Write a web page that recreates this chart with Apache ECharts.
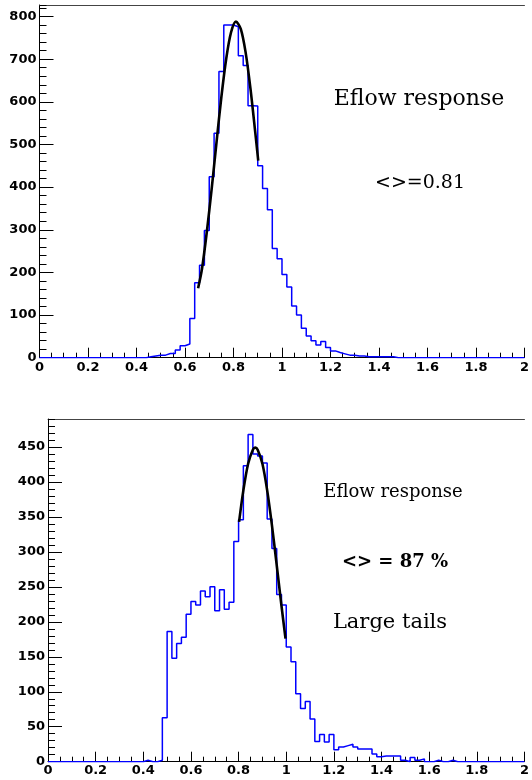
<!DOCTYPE html>
<html><head><meta charset="utf-8">
<script src="https://cdn.jsdelivr.net/npm/echarts@6/dist/echarts.min.js"></script>
<style>html,body{margin:0;padding:0;background:#fff}#c{width:532px;height:780px}</style>
</head><body><div id="c"></div>
<script>
// ---------- data ----------
const binWidth = 0.02;          // histogram bin width, x from 0 to 2 (100 bins)
const xMin = 0, xMax = 2;

// Top histogram: counts per bin (bin i covers [0.02*i, 0.02*(i+1)])
const topCounts = [
  0,0,0,0,0,0,0,0,0,0, 0,0,0,0,0,0,0,0,0,0,
  0,0,2,4,6,6,10,10,18,28,
  32,92,176,217,298,424,526,671,780,780,
  776,708,685,591,590,450,397,347,256,232,
  195,166,121,100,69,51,40,30,38,24,
  16,12,9,6,6,4,4,2,2,2,
  2,2,2,0,0,0,0,0,0,0,
  0,0,0,0,0,0,0,0,0,0,
  0,0,0,0,0,0,0,0,0,0
];
// Top gaussian fit
const topFitX = [0.654,0.67,0.69,0.71,0.73,0.75,0.77,0.79,0.81,0.83,0.85,0.87,0.89,0.902];
const topFitY = [163,208,295,396,505,611,701,763,788,771,716,631,527,462];

// Bottom histogram
const bottomCounts = [
  0,0,0,0,0,0,0,0,0,0, 0,0,0,0,0,0,0,0,0,0,
  2,0,0,2,63,186,148,169,178,211,
  229,224,244,236,250,216,246,218,228,315,
  346,423,468,440,437,427,347,305,239,224,
  164,143,97,76,86,61,29,39,28,39,
  17,21,23,25,21,18,18,18,11,7,
  8,8,8,8,2,0,6,2,4,0,
  0,2,0,0,2,0,0,0,0,0,
  0,0,0,0,0,0,0,0,0,0
];
const bottomFitX = [0.802,0.82,0.84,0.86,0.87,0.88,0.90,0.92,0.94,0.96,0.98,0.997];
const bottomFitY = [343,388,426,446,449,446,426,388,338,281,223,176];

// Axis settings
const xInterval = 0.2;
const topYMax = 827, topYInterval = 100, topYMinor = 20;
const bottomYMax = 490, bottomYInterval = 50, bottomYMinor = 10;

// ---------- build ----------
function stepPoints(counts) {
  const pts = [];
  counts.forEach((c, i) => {
    pts.push([+(i * binWidth).toFixed(4), c]);
    pts.push([+((i + 1) * binWidth).toFixed(4), c]);
  });
  return pts;
}
function zip(xs, ys) { return xs.map((x, i) => [x, ys[i]]); }

const labelFont = {fontFamily: 'DejaVu Sans', fontWeight: 'bold', color: '#000'};

function xAxes(gi) {
  return [
    {
      gridIndex: gi, type: 'value', min: xMin, max: xMax, interval: xInterval, position: 'bottom',
      axisLine: {show: true, onZero: false, lineStyle: {color: '#000', width: 1}},
      axisTick: {show: true, inside: true, length: 10, lineStyle: {color: '#000', width: 1}},
      minorTick: {show: true, splitNumber: 4, length: 5, lineStyle: {color: '#000', width: 1}},
      splitLine: {show: false}, minorSplitLine: {show: false},
      axisLabel: Object.assign({fontSize: 13, margin: gi === 0 ? 3 : 2}, labelFont)
    },
    {
      gridIndex: gi, type: 'value', min: xMin, max: xMax, position: 'top',
      axisLine: {show: true, onZero: false, lineStyle: {color: '#444', width: 1}},
      axisTick: {show: false}, axisLabel: {show: false}, splitLine: {show: false}
    }
  ];
}
function yAxes(gi, max, interval, minor) {
  return [
    {
      gridIndex: gi, type: 'value', min: 0, max: max, interval: interval, position: 'left',
      axisLine: {show: true, onZero: false, lineStyle: {color: '#000', width: 1}},
      axisTick: {show: true, inside: true, length: 14, lineStyle: {color: '#000', width: 1}},
      splitLine: {show: false},
      axisLabel: Object.assign({fontSize: 13, margin: 3, showMaxLabel: false}, labelFont)
    },
    {
      gridIndex: gi, type: 'value', min: 0, max: max, interval: minor, position: 'left',
      axisLine: {show: false},
      axisTick: {show: true, inside: true, length: 7, lineStyle: {color: '#000', width: 1}},
      splitLine: {show: false}, axisLabel: {show: false}
    }
  ];
}

const chart = echarts.init(document.getElementById('c'), null, {renderer: 'canvas'});
chart.setOption({
  animation: false,
  backgroundColor: '#fff',
  grid: [
    {left: 39.5, top: 5, width: 488, height: 352.7},
    {left: 48, top: 419, width: 479, height: 342.7}
  ],
  xAxis: [...xAxes(0), ...xAxes(1)],
  yAxis: [...yAxes(0, topYMax, topYInterval, topYMinor), ...yAxes(1, bottomYMax, bottomYInterval, bottomYMinor)],
  series: [
    {type: 'line', xAxisIndex: 0, yAxisIndex: 0, data: stepPoints(topCounts), symbol: 'none',
     lineStyle: {color: '#0000ff', width: 1.5}, z: 2},
    {type: 'line', xAxisIndex: 0, yAxisIndex: 0, data: zip(topFitX, topFitY), symbol: 'none', smooth: 0.3,
     lineStyle: {color: '#000', width: 2.6}, z: 3},
    {type: 'line', xAxisIndex: 2, yAxisIndex: 2, data: stepPoints(bottomCounts), symbol: 'none',
     lineStyle: {color: '#0000ff', width: 1.5}, z: 2},
    {type: 'line', xAxisIndex: 2, yAxisIndex: 2, data: zip(bottomFitX, bottomFitY), symbol: 'none', smooth: 0.3,
     lineStyle: {color: '#000', width: 2.6}, z: 3}
  ],
  graphic: [
    {type: 'text', x: 419, y: 99, style: {text: 'Eflow response', font: '22px "DejaVu Serif"', fill: '#000', align: 'center', verticalAlign: 'middle'}},
    {type: 'text', x: 420, y: 183, style: {text: '<>=0.81', font: '19px "DejaVu Serif"', fill: '#000', align: 'center', verticalAlign: 'middle'}},
    {type: 'text', x: 393, y: 492, style: {text: 'Eflow response', font: '18px "DejaVu Serif"', fill: '#000', align: 'center', verticalAlign: 'middle'}},
    {type: 'text', x: 395, y: 562, style: {text: '<> = 87 %', font: 'bold 18px "DejaVu Serif"', fill: '#000', align: 'center', verticalAlign: 'middle'}},
    {type: 'text', x: 390, y: 623, style: {text: 'Large tails', font: '21px "DejaVu Serif"', fill: '#000', align: 'center', verticalAlign: 'middle'}}
  ]
});
</script>
</body></html>
